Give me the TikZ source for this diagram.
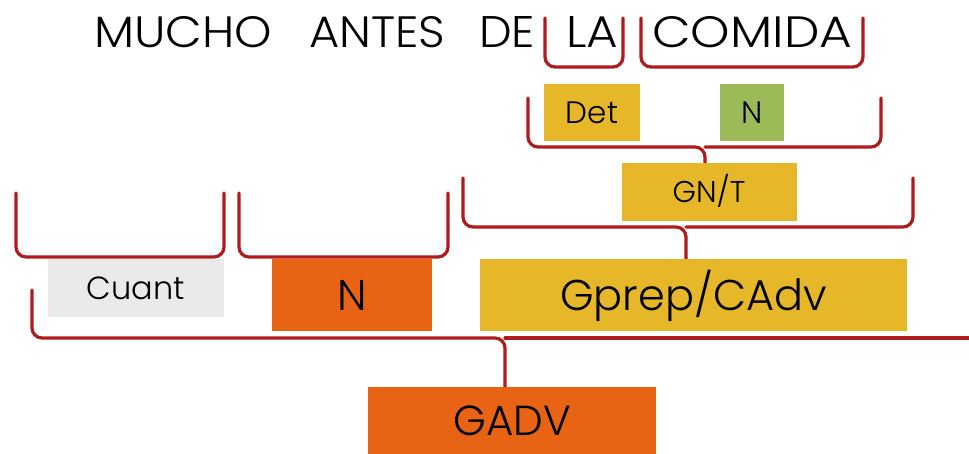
\documentclass[tikz,border=0pt]{standalone}
\usepackage{fontspec}
\IfFontExistsTF{Poppins Light}{\setmainfont{Poppins Light}}{\setmainfont{Poppins}}
\definecolor{bracered}{HTML}{B11B1B}
\definecolor{gold}{HTML}{E5B729}
\definecolor{orng}{HTML}{E96315}
\definecolor{grn}{HTML}{9BBB59}
\definecolor{lgray}{HTML}{EAEAEA}
\begin{document}
\begin{tikzpicture}[x=1pt,y=-1pt,
  brk/.style={draw=bracered, line width=3.2pt, rounded corners=10pt, line cap=round},
  box/.style={inner sep=0pt, text depth=0pt, align=center},
  word/.style={inner sep=0pt, anchor=base west}]
\useasboundingbox (0,0) rectangle (969,454);

% title words
\node[word] (t1) at (94,48) {\resizebox{178pt}{31pt}{MUCHO}};
\node[word] (t2) at (309,48) {\resizebox{136pt}{31pt}{ANTES}};
\node[word] (t3) at (479,48) {\resizebox{56pt}{31pt}{DE}};
\node[word] (t4) at (566,48) {\resizebox{52pt}{31pt}{LA}};
\node[word] (t5) at (652,48) {\resizebox{200pt}{31pt}{COMIDA}};

% braces (drawn first, boxes on top)
\draw[brk] (545,18) -- (545,67) -- (623,67) -- (623,18);
\draw[brk] (641,18) -- (641,67) -- (863,67) -- (863,18);

\draw[brk] (528,98) -- (528,147) -- (705,147) -- (705,165);
\draw[brk] (881,98) -- (881,147) -- (705,147);

\draw[brk] (463,178) -- (463,227) -- (686,227) -- (686,261);
\draw[brk] (913,178) -- (913,227) -- (686,227);

\draw[brk] (16,193) -- (16,257) -- (224,257) -- (224,193);
\draw[brk] (239,193) -- (239,257) -- (448,257) -- (448,193);

\draw[brk] (32,290) -- (32,338) -- (505,338) -- (505,389);
\draw[brk] (975,338) -- (505,338);

% boxes
\node[box, fill=gold, minimum width=96pt, minimum height=57pt, text height=22pt, font=\fontsize{31}{31}\selectfont] (det) at (592,112.5) {Det};
\node[box, fill=grn, minimum width=64pt, minimum height=57pt, text height=22pt, font=\fontsize{31}{31}\selectfont] (nn) at (752,112.5) {N};
\node[box, fill=gold, minimum width=175pt, minimum height=58pt, text height=21pt, font=\fontsize{30}{30}\selectfont] (gnt) at (709,192) {GN/T};
\node[box, fill=lgray, minimum width=176pt, minimum height=58pt, text height=23pt, font=\fontsize{32}{32}\selectfont] (cuant) at (136,288) {Cuant};
\node[box, fill=orng, minimum width=160pt, minimum height=72pt, text height=30pt, font=\fontsize{43}{43}\selectfont] (norg) at (352,295) {N};
\node[box, fill=gold, minimum width=427pt, minimum height=72pt, text height=30pt, font=\fontsize{43}{43}\selectfont] (gprep) at (693.5,295) {Gprep/CAdv};
\node[box, fill=orng, minimum width=288pt, minimum height=68pt, text height=29pt, font=\fontsize{42}{42}\selectfont] (gadv) at (512,421) {GADV};
\end{tikzpicture}
\end{document}
